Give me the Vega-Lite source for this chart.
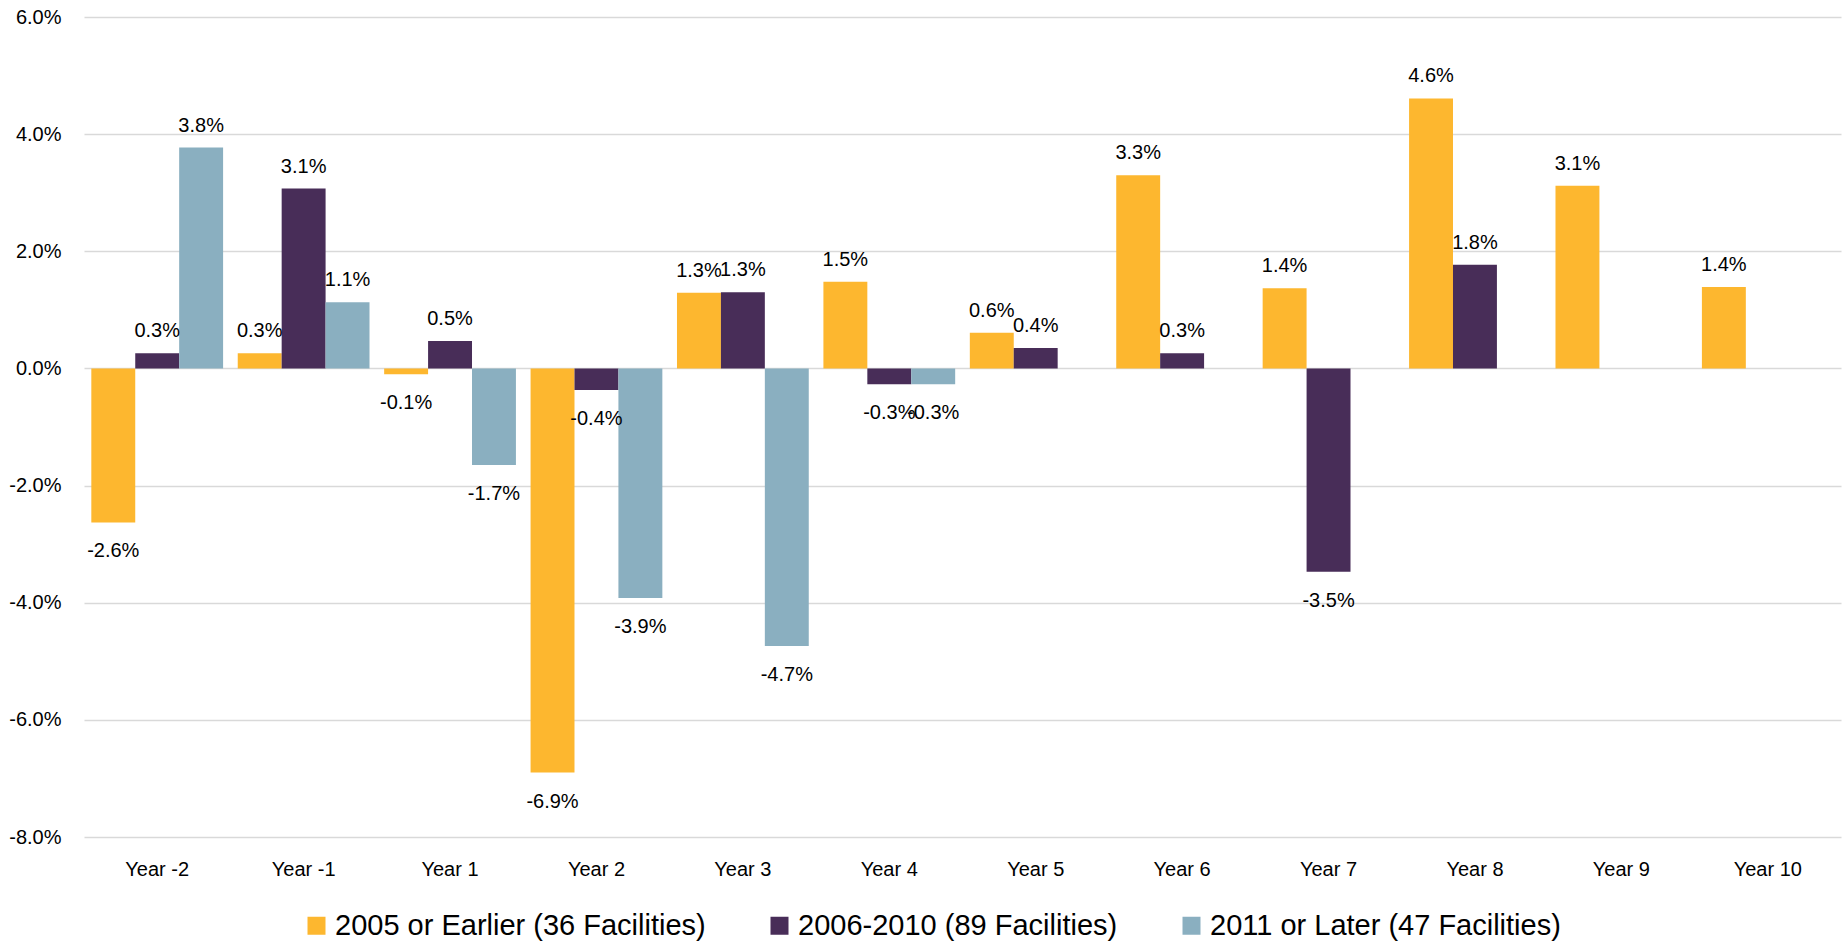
{
  "$schema": "https://vega.github.io/schema/vega-lite/v6.json",
  "width": 1757,
  "height": 820,
  "autosize": {"type": "none"},
  "padding": {"left": 84, "top": 17, "right": 4, "bottom": 104},
  "background": "white",
  "config": {
    "view": {"stroke": null},
    "font": "Liberation Sans",
    "locale": {"number": {"decimal": ".", "thousands": ",", "grouping": [3], "currency": ["$", ""], "minus": "-"}}
  },
  "data": {
    "values": [
      {"year": "Year -2", "series": "2005 or Earlier (36 Facilities)", "value": -0.0263},
      {"year": "Year -2", "series": "2006-2010 (89 Facilities)", "value": 0.0026},
      {"year": "Year -2", "series": "2011 or Later (47 Facilities)", "value": 0.0377},
      {"year": "Year -1", "series": "2005 or Earlier (36 Facilities)", "value": 0.0026},
      {"year": "Year -1", "series": "2006-2010 (89 Facilities)", "value": 0.0307},
      {"year": "Year -1", "series": "2011 or Later (47 Facilities)", "value": 0.0113},
      {"year": "Year 1", "series": "2005 or Earlier (36 Facilities)", "value": -0.001},
      {"year": "Year 1", "series": "2006-2010 (89 Facilities)", "value": 0.0047},
      {"year": "Year 1", "series": "2011 or Later (47 Facilities)", "value": -0.0165},
      {"year": "Year 2", "series": "2005 or Earlier (36 Facilities)", "value": -0.069},
      {"year": "Year 2", "series": "2006-2010 (89 Facilities)", "value": -0.0037},
      {"year": "Year 2", "series": "2011 or Later (47 Facilities)", "value": -0.0392},
      {"year": "Year 3", "series": "2005 or Earlier (36 Facilities)", "value": 0.0129},
      {"year": "Year 3", "series": "2006-2010 (89 Facilities)", "value": 0.013},
      {"year": "Year 3", "series": "2011 or Later (47 Facilities)", "value": -0.0474},
      {"year": "Year 4", "series": "2005 or Earlier (36 Facilities)", "value": 0.0148},
      {"year": "Year 4", "series": "2006-2010 (89 Facilities)", "value": -0.0027},
      {"year": "Year 4", "series": "2011 or Later (47 Facilities)", "value": -0.0027},
      {"year": "Year 5", "series": "2005 or Earlier (36 Facilities)", "value": 0.0061},
      {"year": "Year 5", "series": "2006-2010 (89 Facilities)", "value": 0.0035},
      {"year": "Year 6", "series": "2005 or Earlier (36 Facilities)", "value": 0.033},
      {"year": "Year 6", "series": "2006-2010 (89 Facilities)", "value": 0.0026},
      {"year": "Year 7", "series": "2005 or Earlier (36 Facilities)", "value": 0.0137},
      {"year": "Year 7", "series": "2006-2010 (89 Facilities)", "value": -0.0347},
      {"year": "Year 8", "series": "2005 or Earlier (36 Facilities)", "value": 0.0461},
      {"year": "Year 8", "series": "2006-2010 (89 Facilities)", "value": 0.0177},
      {"year": "Year 9", "series": "2005 or Earlier (36 Facilities)", "value": 0.0312},
      {"year": "Year 10", "series": "2005 or Earlier (36 Facilities)", "value": 0.0139}
    ]
  },
  "encoding": {
    "x": {
      "field": "year",
      "type": "nominal",
      "sort": ["Year -2", "Year -1", "Year 1", "Year 2", "Year 3", "Year 4", "Year 5", "Year 6", "Year 7", "Year 8", "Year 9", "Year 10"],
      "scale": {"paddingInner": 0.1, "paddingOuter": 0.05},
      "axis": {"title": null, "labelAngle": 0, "domain": false, "ticks": false, "grid": false, "labelFontSize": 20, "labelPadding": 22, "labelColor": "#000000", "labelFont": "Liberation Sans"}
    },
    "xOffset": {
      "field": "series",
      "type": "nominal",
      "scale": {"domain": ["2005 or Earlier (36 Facilities)", "2006-2010 (89 Facilities)", "2011 or Later (47 Facilities)"], "paddingInner": 0, "paddingOuter": 0}
    },
    "y": {
      "field": "value",
      "type": "quantitative",
      "scale": {"domain": [-0.08, 0.06], "nice": false},
      "axis": {"title": null, "values": [-0.08, -0.06, -0.04, -0.02, 0, 0.02, 0.04, 0.06], "format": ".1%", "domain": false, "ticks": false, "gridColor": "#D9D9D9", "gridWidth": 1.5, "labelFontSize": 20, "labelPadding": 23, "labelColor": "#000000", "labelFont": "Liberation Sans"}
    }
  },
  "layer": [
    {
      "mark": {"type": "bar"},
      "encoding": {
        "color": {
          "field": "series",
          "type": "nominal",
          "scale": {"domain": ["2005 or Earlier (36 Facilities)", "2006-2010 (89 Facilities)", "2011 or Later (47 Facilities)"], "range": ["#FDB72F", "#482D58", "#8AAFC0"]},
          "legend": {"orient": "none", "legendX": 218, "legendY": 894, "direction": "horizontal", "title": null, "symbolType": "square", "symbolSize": 324, "symbolStrokeWidth": 0, "symbolOpacity": 1, "labelFontSize": 29, "labelFont": "Liberation Sans", "labelColor": "#000000", "labelOffset": 4, "columnPadding": 59, "labelLimit": 0}
        }
      }
    },
    {
      "transform": [{"filter": "datum.value >= 0"}],
      "mark": {"type": "text", "baseline": "alphabetic", "dy": -16, "fontSize": 20, "font": "Liberation Sans", "color": "#000000"},
      "encoding": {"text": {"field": "value", "type": "quantitative", "format": ".1%"}}
    },
    {
      "transform": [{"filter": "datum.value < 0"}],
      "mark": {"type": "text", "baseline": "alphabetic", "dy": 35, "fontSize": 20, "font": "Liberation Sans", "color": "#000000"},
      "encoding": {"text": {"field": "value", "type": "quantitative", "format": ".1%"}}
    }
  ]
}
